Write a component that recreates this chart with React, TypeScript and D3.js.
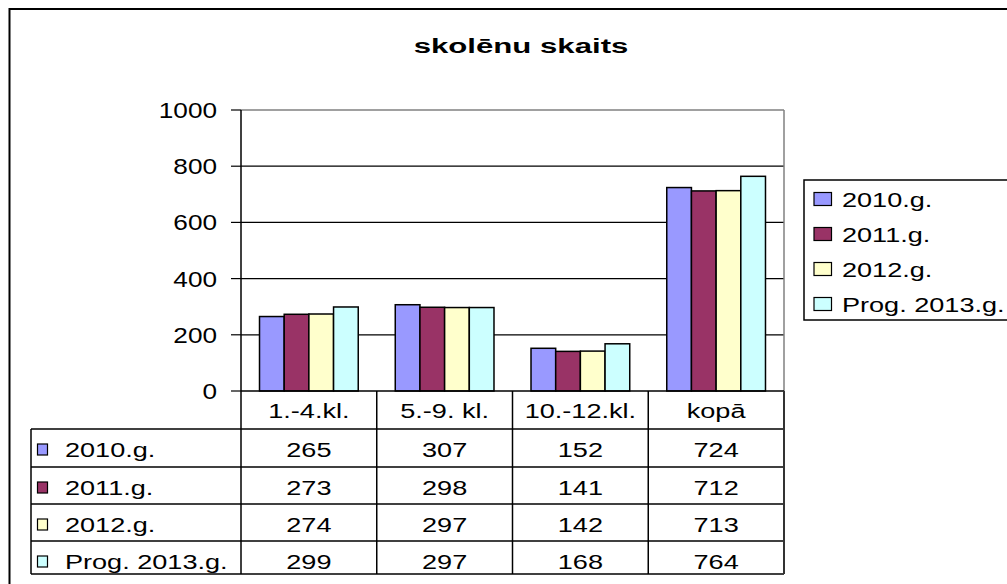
import React from "react";
import * as d3 from "d3";

const title = "skolēnu skaits";
const categories = ["1.-4.kl.", "5.-9. kl.", "10.-12.kl.", "kopā"];
const seriesNames = ["2010.g.", "2011.g.", "2012.g.", "Prog. 2013.g."];
const values2010 = [265, 307, 152, 724];
const values2011 = [273, 298, 141, 712];
const values2012 = [274, 297, 142, 713];
const values2013 = [299, 297, 168, 764];
const seriesValues = [values2010, values2011, values2012, values2013];
const colors = ["#9999FF", "#993366", "#FFFFCC", "#CCFFFF"];
const yTicks = [0, 200, 400, 600, 800, 1000];

const W = 1007;
const H = 584;
const FONT = "'Liberation Sans', Arial, sans-serif";

function T({ x, y, anchor = "start", size = 21, sx = 1.29, weight = "normal", children }: any) {
  return (
    <text
      transform={`translate(${x},${y}) scale(${sx},1)`}
      textAnchor={anchor}
      fontSize={size}
      fontWeight={weight}
      fontFamily={FONT}
      fill="#000"
    >
      {children}
    </text>
  );
}

export default function App() {
  const plotL = 241, plotR = 784, plotT = 110, plotB = 391;
  const x0 = d3.scaleBand<string>().domain(categories).range([plotL, plotR]).paddingInner(0).paddingOuter(0);
  const bw = x0.bandwidth();
  const gap = (bw / (seriesNames.length + 1.5)) * 1.5;
  const x1 = d3.scaleBand<string>().domain(seriesNames).range([gap / 2, bw - gap / 2]).padding(0);
  const y = d3.scaleLinear().domain([0, 1000]).range([plotB, plotT]);

  const tableL = 31;
  const rowLines = [391, 429, 467, 504, 541, 574];

  const legendX = 804, legendY = 180, legendH = 140, legendRow = 35;

  return (
    <svg width={W} height={H} style={{ position: "absolute", left: 0, top: 0, background: "#fff" }}>
      <rect x={0} y={0} width={W} height={H} fill="#fff" />
      {/* outer frame */}
      <rect x={9.5} y={9} width={1100} height={700} fill="none" stroke="#000" strokeWidth={2} />
      {/* title */}
      <T x={521} y={52.5} anchor="middle" size={20.5} sx={1.52} weight="bold">{title}</T>

      {/* gridlines */}
      {yTicks.filter((t) => t > 0 && t < 1000).map((t) => (
        <line key={t} x1={plotL} x2={plotR} y1={y(t)} y2={y(t)} stroke="#000" strokeWidth={1.2} />
      ))}
      {/* plot border top/right */}
      <line x1={plotL} x2={plotR} y1={y(1000)} y2={y(1000)} stroke="#808080" strokeWidth={1.5} />
      <line x1={plotR} x2={plotR} y1={plotT} y2={plotB} stroke="#808080" strokeWidth={1.5} />

      {/* bars */}
      {seriesNames.map((s, si) =>
        categories.map((c, ci) => {
          const v = seriesValues[si][ci];
          const bx = (x0(c) as number) + (x1(s) as number);
          return (
            <rect
              key={s + c}
              x={bx}
              y={y(v)}
              width={x1.bandwidth()}
              height={plotB - y(v)}
              fill={colors[si]}
              stroke="#000"
              strokeWidth={1.5}
            />
          );
        })
      )}

      {/* y axis */}
      <line x1={plotL} x2={plotL} y1={plotT} y2={rowLines[rowLines.length - 1]} stroke="#000" strokeWidth={1.5} />
      {yTicks.map((t) => (
        <g key={t}>
          <line x1={plotL - 10} x2={plotL} y1={y(t)} y2={y(t)} stroke="#000" strokeWidth={1.2} />
          <T x={217} y={y(t) + 8} anchor="end" size={22} sx={1.19}>{String(t)}</T>
        </g>
      ))}

      {/* data table */}
      <line x1={plotL} x2={plotR} y1={rowLines[0]} y2={rowLines[0]} stroke="#000" strokeWidth={1.5} />
      {rowLines.slice(1).map((ry, i) => (
        <line key={i} x1={tableL} x2={plotR} y1={ry} y2={ry} stroke="#000" strokeWidth={1.5} />
      ))}
      <line x1={tableL} x2={tableL} y1={rowLines[1]} y2={rowLines[rowLines.length - 1]} stroke="#000" strokeWidth={1.5} />
      {categories.map((c, ci) => (
        <line
          key={"v" + c}
          x1={(x0(c) as number) + bw}
          x2={(x0(c) as number) + bw}
          y1={rowLines[0]}
          y2={rowLines[rowLines.length - 1]}
          stroke={ci === categories.length - 1 ? "#333" : "#000"}
          strokeWidth={ci === categories.length - 1 ? 2 : 1.5}
        />
      ))}
      {categories.map((c) => (
        <T key={"h" + c} x={(x0(c) as number) + bw / 2} y={rowLines[0] + 27} anchor="middle">{c}</T>
      ))}
      {seriesNames.map((s, si) => {
        const top = rowLines[si + 1];
        return (
          <g key={"r" + s}>
            <rect x={37.5} y={top + 15} width={10} height={11} fill={colors[si]} stroke="#000" strokeWidth={1.2} />
            <T x={65} y={top + 28}>{s}</T>
            {categories.map((c, ci) => (
              <T key={c} x={(x0(c) as number) + bw / 2} y={top + 28} anchor="middle">
                {String(seriesValues[si][ci])}
              </T>
            ))}
          </g>
        );
      })}

      {/* legend */}
      <rect x={legendX} y={legendY} width={300} height={legendH} fill="#fff" stroke="#000" strokeWidth={1.5} />
      {seriesNames.map((s, si) => {
        const cy = 199 + si * legendRow;
        return (
          <g key={"l" + s}>
            <rect x={814} y={cy - 6.5} width={17.5} height={13} fill={colors[si]} stroke="#000" strokeWidth={1.2} />
            <T x={842} y={cy + 7.7}>{s}</T>
          </g>
        );
      })}
    </svg>
  );
}
